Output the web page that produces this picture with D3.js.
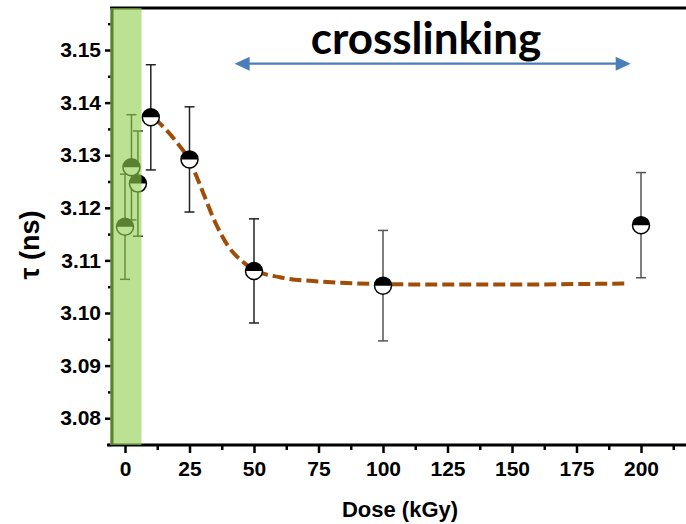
<!DOCTYPE html>
<html>
<head>
<meta charset="utf-8">
<script src="https://cdn.jsdelivr.net/npm/d3@7/dist/d3.min.js"></script>
<style>
  html, body { margin: 0; padding: 0; background: #fff; }
  svg { display: block; }
</style>
</head>
<body>
<svg id="chart" width="686" height="524"></svg>
<script>
// Fluorescence lifetime vs. irradiation dose
const doses    = [0, 2.5, 5, 10, 25, 50, 100, 200];
const lifetime = [3.1164, 3.1277, 3.1246, 3.1372, 3.1292, 3.1080, 3.1052, 3.1167];
const errors   = [0.0100, 0.0100, 0.0100, 0.0100, 0.0100, 0.0099, 0.0105, 0.0100];

// Fitted trend (dashed)
const fitDose  = [11.5, 20, 25, 30, 35, 40, 45, 50, 60, 75, 100, 125, 150, 175, 195];
const fitValue = [3.1370, 3.1325, 3.1290, 3.1232, 3.1172, 3.1127, 3.1100, 3.1082,
                  3.1068, 3.1060, 3.1055, 3.1054, 3.1054, 3.1055, 3.1056];

const xTicks = [0, 25, 50, 75, 100, 125, 150, 175, 200];
const yTicks = [3.08, 3.09, 3.10, 3.11, 3.12, 3.13, 3.14, 3.15];

// Low-dose region shading and crosslinking span
const bandRange  = [-5.8, 6.4];
const arrowRange = [42.5, 196];
const arrowValue = 3.1474;

const svg = d3.select("#chart");
const x = d3.scaleLinear().domain([0, 200]).range([125, 641]);
const y = d3.scaleLinear().domain([3.075, 3.15]).range([444.5, 50]);

const axisFont = "'Liberation Sans', Arial, sans-serif";

// Frame lines
svg.append("line").attr("x1", 110).attr("x2", 686).attr("y1", 8).attr("y2", 8)
  .attr("stroke", "#000").attr("stroke-width", 3);
svg.append("line").attr("x1", 112).attr("x2", 112).attr("y1", 7).attr("y2", 446)
  .attr("stroke", "#000").attr("stroke-width", 3);
svg.append("line").attr("x1", 107).attr("x2", 686).attr("y1", 445).attr("y2", 445)
  .attr("stroke", "#000").attr("stroke-width", 3);

// X axis
const gx = svg.append("g").attr("transform", "translate(0,446)")
  .call(d3.axisBottom(x).tickValues(xTicks).tickSize(7).tickPadding(8));
gx.select(".domain").remove();
gx.selectAll(".tick line").attr("stroke", "#000").attr("stroke-width", 2.5);
gx.selectAll(".tick text").attr("font-family", axisFont).attr("font-weight", "bold")
  .attr("font-size", 21).attr("fill", "#000");
const xMinor = d3.range(12.5, 217, 25);
svg.append("g").attr("transform", "translate(0,446)")
  .call(d3.axisBottom(x).tickValues(xMinor).tickSize(4).tickFormat(""))
  .call(g => g.select(".domain").remove())
  .selectAll(".tick line").attr("stroke", "#000").attr("stroke-width", 2.5);

// Y axis
const gy = svg.append("g").attr("transform", "translate(111,0)")
  .call(d3.axisLeft(y).tickValues(yTicks).tickSize(6).tickPadding(4).tickFormat(d3.format(".2f")));
gy.select(".domain").remove();
gy.selectAll(".tick line").attr("stroke", "#000").attr("stroke-width", 2.5);
gy.selectAll(".tick text").attr("font-family", axisFont).attr("font-weight", "bold")
  .attr("font-size", 21).attr("fill", "#000");
const yMinor = d3.range(3.075, 3.1576, 0.01);
svg.append("g").attr("transform", "translate(111,0)")
  .call(d3.axisLeft(y).tickValues(yMinor).tickSize(3).tickFormat(""))
  .call(g => g.select(".domain").remove())
  .selectAll(".tick line").attr("stroke", "#000").attr("stroke-width", 2.5);

// Axis titles
svg.append("text").attr("x", 400).attr("y", 517).attr("text-anchor", "middle")
  .attr("font-family", axisFont).attr("font-weight", "bold").attr("font-size", 22)
  .text("Dose (kGy)");
svg.append("text").attr("transform", "translate(39,245) rotate(-90)")
  .attr("text-anchor", "middle")
  .attr("font-family", axisFont).attr("font-weight", "bold").attr("font-size", 27)
  .text("τ (ns)");

// Fitted curve
const fitData = fitDose.map((d, i) => [d, fitValue[i]]);
svg.append("path").datum(fitData)
  .attr("d", d3.line().x(d => x(d[0])).y(d => y(d[1])).curve(d3.curveMonotoneX))
  .attr("fill", "none").attr("stroke", "#a04d08").attr("stroke-width", 4)
  .attr("stroke-dasharray", "12,5");

// Error bars and half-filled markers
const pts = doses.map((d, i) => ({ d, v: lifetime[i], e: errors[i] }));
const eb = svg.append("g");
pts.forEach(p => {
  const col = p.d >= 100 ? "#555" : "#222";
  const cx = x(p.d);
  eb.append("line").attr("x1", cx).attr("x2", cx)
    .attr("y1", y(p.v + p.e)).attr("y2", y(p.v - p.e))
    .attr("stroke", col).attr("stroke-width", 1.5);
  [p.v + p.e, p.v - p.e].forEach(v => {
    eb.append("line").attr("x1", cx - 5).attr("x2", cx + 5)
      .attr("y1", y(v)).attr("y2", y(v))
      .attr("stroke", col).attr("stroke-width", 1.5);
  });
});
const r = 8.5;
const mk = svg.append("g");
pts.forEach(p => {
  const cx = x(p.d), cy = y(p.v);
  mk.append("circle").attr("cx", cx).attr("cy", cy).attr("r", r).attr("fill", "#fff");
  mk.append("path")
    .attr("d", `M${cx - r},${cy} A${r},${r} 0 0 1 ${cx + r},${cy} Z`)
    .attr("fill", "#000");
  mk.append("circle").attr("cx", cx).attr("cy", cy).attr("r", r)
    .attr("fill", "none").attr("stroke", "#000").attr("stroke-width", 1.5);
});

// Crosslinking double arrow
const ay = y(arrowValue);
const ax1 = x(arrowRange[0]), ax2 = x(arrowRange[1]);
const blue = "#4a7ebb";
svg.append("line").attr("x1", ax1 + 12).attr("x2", ax2 - 12).attr("y1", ay).attr("y2", ay)
  .attr("stroke", blue).attr("stroke-width", 2.2);
svg.append("path").attr("d", `M${ax1},${ay} L${ax1 + 15},${ay - 7} L${ax1 + 15},${ay + 7} Z`).attr("fill", blue);
svg.append("path").attr("d", `M${ax2},${ay} L${ax2 - 15},${ay - 7} L${ax2 - 15},${ay + 7} Z`).attr("fill", blue);
svg.append("text").attr("x", 426).attr("y", 54).attr("text-anchor", "middle")
  .attr("font-family", "Lato, 'Open Sans', sans-serif").attr("font-weight", "bold")
  .attr("font-size", 44).attr("fill", "#000")
  .text("crosslinking");

// Translucent green shading over the low-dose region
svg.append("rect")
  .attr("x", x(bandRange[0])).attr("width", x(bandRange[1]) - x(bandRange[0]))
  .attr("y", 8).attr("height", 437)
  .attr("fill", "#92d050").attr("fill-opacity", 0.62);
</script>
</body>
</html>
